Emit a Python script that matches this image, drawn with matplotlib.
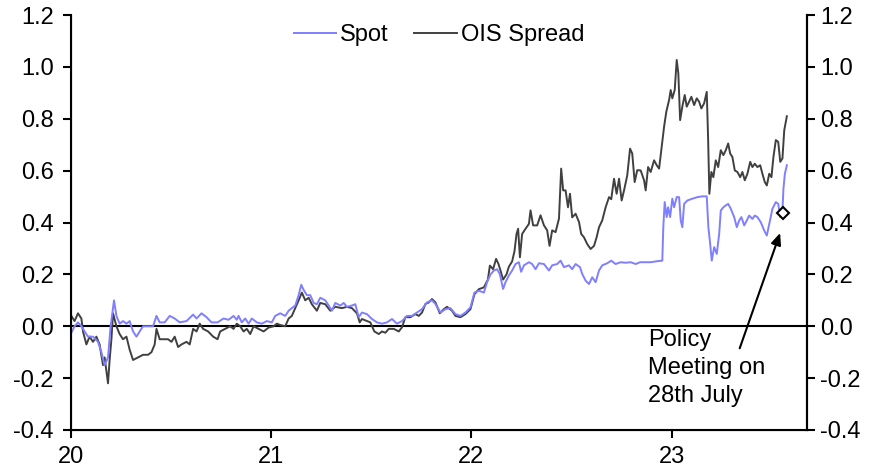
import matplotlib
matplotlib.use("Agg")
import matplotlib.pyplot as plt

plt.rcParams['font.family'] = ['Liberation Sans', 'DejaVu Sans']

# ---- data (decimal years, e.g. 20.5 = mid-2020) ----
spot_t = [20.002, 20.018, 20.035, 20.052, 20.068, 20.085, 20.11, 20.135, 20.152, 20.168,
          20.185, 20.198, 20.215, 20.227, 20.243, 20.26, 20.277, 20.293, 20.31, 20.327,
          20.343, 20.36, 20.385, 20.41, 20.427, 20.443, 20.468, 20.493, 20.518, 20.543,
          20.577, 20.61, 20.627, 20.652, 20.677, 20.702, 20.732,
          20.762, 20.787, 20.812, 20.828, 20.837, 20.853, 20.87, 20.887, 20.903, 20.928,
          20.953, 20.978, 21.003, 21.02, 21.045, 21.07, 21.087, 21.103, 21.12, 21.137,
          21.15, 21.162, 21.178, 21.195, 21.212, 21.228, 21.245, 21.27, 21.287, 21.303,
          21.32, 21.345, 21.362, 21.378, 21.403, 21.42, 21.437,
          21.453, 21.478, 21.503, 21.528, 21.553, 21.578, 21.603, 21.628, 21.653, 21.678,
          21.703, 21.728, 21.753, 21.778, 21.803, 21.82, 21.845, 21.87, 21.895, 21.92,
          21.945, 21.97, 21.995, 22.015, 22.037, 22.062, 22.078, 22.095, 22.112, 22.128,
          22.142, 22.158, 22.17, 22.187, 22.203, 22.22, 22.237, 22.248, 22.262, 22.287,
          22.303, 22.32, 22.337, 22.362, 22.387, 22.403, 22.428, 22.445, 22.462, 22.487,
          22.503, 22.52, 22.542, 22.553, 22.57, 22.587, 22.603, 22.62, 22.637, 22.653,
          22.678, 22.698, 22.72, 22.745, 22.77, 22.795, 22.82, 22.842, 22.895, 22.928,
          22.953, 22.958, 22.965, 22.975, 22.982, 22.992, 23.003, 23.012, 23.025, 23.037,
          23.045, 23.053, 23.062, 23.078, 23.103, 23.128, 23.153, 23.175, 23.183, 23.192,
          23.2, 23.212, 23.225, 23.237, 23.245, 23.258, 23.27, 23.282, 23.295, 23.312,
          23.325, 23.337, 23.348, 23.362, 23.375, 23.387, 23.403, 23.415, 23.428, 23.445,
          23.462, 23.475, 23.487, 23.503, 23.52, 23.532, 23.542, 23.553, 23.558, 23.565,
          23.575]
spot_v = [-0.025, 0.0, 0.015, 0.0, -0.02, -0.04, -0.04, -0.06, -0.10, -0.15,
          -0.12, 0.0, 0.10, 0.04, 0.01, 0.02, 0.01, 0.02, -0.02, -0.04,
          -0.02, 0.0, 0.0, 0.0, 0.04, 0.015, 0.015, 0.04, 0.03, 0.015,
          0.02, 0.045, 0.03, 0.05, 0.035, 0.015, 0.015,
          0.03, 0.025, 0.04, 0.025, 0.04, 0.015, 0.03, 0.01, 0.03, 0.015,
          0.01, 0.02, 0.015, 0.04, 0.05, 0.04, 0.06, 0.07, 0.08, 0.12,
          0.16, 0.14, 0.12, 0.12, 0.09, 0.085, 0.11, 0.10, 0.08, 0.06,
          0.09, 0.08, 0.09, 0.075, 0.08, 0.085, 0.035,
          0.053, 0.047, 0.028, 0.015, 0.01, 0.015, 0.028, 0.01, 0.02, 0.04,
          0.04, 0.053, 0.066, 0.092, 0.10, 0.086, 0.053, 0.066, 0.07, 0.047,
          0.04, 0.053, 0.073, 0.13, 0.137, 0.13, 0.17, 0.20, 0.215, 0.22,
          0.20, 0.144, 0.17, 0.196, 0.215, 0.24, 0.247, 0.21, 0.235, 0.247,
          0.24, 0.22, 0.243, 0.24, 0.215, 0.235, 0.24, 0.253, 0.228, 0.235,
          0.22, 0.24, 0.228, 0.202, 0.176, 0.163, 0.189, 0.17, 0.215, 0.235,
          0.243, 0.253, 0.24, 0.247, 0.245, 0.247, 0.24, 0.247, 0.247, 0.251,
          0.253, 0.382, 0.479, 0.421, 0.459, 0.421, 0.492, 0.459, 0.498, 0.498,
          0.408, 0.382, 0.472, 0.485, 0.492, 0.498, 0.501, 0.501, 0.382, 0.318,
          0.253, 0.305, 0.279, 0.356, 0.446, 0.459, 0.466, 0.472, 0.453, 0.421,
          0.382, 0.408, 0.421, 0.389, 0.408, 0.427, 0.414, 0.427, 0.421, 0.401,
          0.369, 0.350, 0.395, 0.453, 0.479, 0.472, 0.421, 0.446, 0.53, 0.588,
          0.621]

ois_t = [20.002, 20.018, 20.035, 20.052, 20.06, 20.077, 20.093, 20.11, 20.127, 20.143,
         20.16, 20.168, 20.185, 20.193, 20.202, 20.21, 20.227, 20.243, 20.26, 20.277,
         20.293, 20.31, 20.335, 20.36, 20.385, 20.402, 20.418, 20.427, 20.443, 20.468,
         20.485, 20.502, 20.518, 20.535, 20.552, 20.577, 20.593, 20.61, 20.627, 20.643,
         20.66, 20.685, 20.71, 20.732,
         20.745, 20.77, 20.795, 20.812, 20.828, 20.845, 20.862, 20.878, 20.895, 20.912,
         20.937, 20.962, 20.987, 21.012, 21.028, 21.045, 21.07, 21.087, 21.103, 21.12,
         21.137, 21.153, 21.17, 21.187, 21.203, 21.228, 21.245, 21.27, 21.295, 21.32,
         21.353, 21.378, 21.403, 21.428, 21.442,
         21.453, 21.478, 21.495, 21.515, 21.537, 21.553, 21.57, 21.587, 21.612, 21.637,
         21.653, 21.67, 21.695, 21.72, 21.737, 21.753, 21.77, 21.787, 21.803, 21.82,
         21.842, 21.862, 21.878, 21.903, 21.92, 21.945, 21.97, 21.995, 22.015, 22.037,
         22.062, 22.082, 22.092, 22.108, 22.123, 22.135,
         22.145, 22.158, 22.175, 22.187, 22.203, 22.215, 22.225, 22.233, 22.242, 22.253,
         22.27, 22.287, 22.295, 22.308, 22.328, 22.345, 22.362, 22.378, 22.39, 22.403,
         22.42, 22.437, 22.448, 22.458, 22.47, 22.482, 22.492, 22.503, 22.52, 22.537,
         22.548, 22.562, 22.578, 22.595, 22.612, 22.625, 22.637, 22.653, 22.67, 22.687,
         22.698, 22.712, 22.725, 22.737, 22.75, 22.762, 22.778, 22.792, 22.803, 22.815,
         22.828, 22.845, 22.862, 22.87, 22.882, 22.895, 22.912, 22.925, 22.937, 22.948,
         22.962, 22.973, 22.987, 22.995, 23.003, 23.015, 23.025, 23.033, 23.042, 23.053,
         23.065, 23.075, 23.087, 23.098, 23.112, 23.125, 23.137, 23.148, 23.162, 23.175,
         23.182, 23.188, 23.198, 23.208, 23.22, 23.232, 23.245, 23.258, 23.27, 23.282,
         23.292, 23.303, 23.315, 23.328, 23.342, 23.353, 23.365, 23.378, 23.392, 23.403,
         23.415, 23.428, 23.442, 23.453, 23.465, 23.475, 23.487, 23.498, 23.508, 23.52,
         23.532, 23.542, 23.553, 23.562, 23.575]
ois_v = [0.04, 0.02, 0.05, 0.03, -0.02, -0.07, -0.04, -0.06, -0.04, -0.07,
         -0.15, -0.12, -0.22, -0.13, -0.05, 0.05, 0.0, -0.03, -0.05, -0.04,
         -0.09, -0.13, -0.12, -0.11, -0.11, -0.10, -0.07, -0.01, -0.05, -0.05,
         -0.05, -0.06, -0.04, -0.08, -0.07, -0.06, -0.07, -0.01, -0.02, 0.01,
         -0.01, -0.02, -0.04, -0.05,
         -0.02, -0.01, 0.0, -0.01, 0.01, 0.0, -0.02, -0.01, -0.03, 0.0,
         -0.01, -0.02, -0.005, 0.0, 0.01, 0.005, 0.0, 0.03, 0.04, 0.07,
         0.10, 0.13, 0.10, 0.11, 0.085, 0.06, 0.09, 0.085, 0.06, 0.075,
         0.07, 0.075, 0.07, 0.05, 0.015,
         0.028, 0.02, 0.015, -0.02, -0.03, -0.02, -0.025, -0.01, -0.01, -0.02,
         -0.004, 0.035, 0.035, 0.047, 0.04, 0.053, 0.086, 0.092, 0.105, 0.092,
         0.05, 0.066, 0.075, 0.06, 0.04, 0.035, 0.047, 0.066, 0.124, 0.143,
         0.15, 0.18, 0.234, 0.22, 0.26, 0.24,
         0.215, 0.18, 0.20, 0.23, 0.25, 0.29, 0.356, 0.376, 0.266, 0.356,
         0.376, 0.395, 0.447, 0.389, 0.389, 0.428, 0.389, 0.37, 0.31, 0.37,
         0.363, 0.415, 0.608, 0.524, 0.524, 0.459, 0.511, 0.42, 0.434, 0.402,
         0.356, 0.343, 0.317, 0.298, 0.31, 0.343, 0.382, 0.408, 0.459, 0.498,
         0.49, 0.569, 0.511, 0.569, 0.485, 0.524, 0.582, 0.685, 0.666, 0.556,
         0.602, 0.601, 0.563, 0.524, 0.614, 0.595, 0.64, 0.621, 0.608, 0.679,
         0.77, 0.827, 0.873, 0.911, 0.879, 0.911, 1.027, 0.976, 0.795, 0.847,
         0.892, 0.847, 0.866, 0.885, 0.853, 0.879, 0.866, 0.84, 0.86, 0.904,
         0.718, 0.511, 0.595, 0.575, 0.64, 0.614, 0.679, 0.66, 0.679, 0.705,
         0.666, 0.653, 0.601, 0.595, 0.575, 0.595, 0.563, 0.588, 0.634, 0.614,
         0.627, 0.614, 0.621, 0.588, 0.556, 0.543, 0.588, 0.575, 0.653, 0.718,
         0.711, 0.634, 0.647, 0.756, 0.81]

meeting_t = [23.555]
meeting_v = [0.436]

x_ticks = [20, 21, 22, 23]
x_labels = ['20', '21', '22', '23']
y_ticks = [-0.4, -0.2, 0.0, 0.2, 0.4, 0.6, 0.8, 1.0, 1.2]

SPOT_C = '#7F7FFF'
OIS_C = '#404040'
FS = 17

fig = plt.figure(figsize=(8.74, 4.72), dpi=100)
ax = fig.add_axes([0.0812, 0.089, 0.842, 0.879])

ax.axhline(0, color='black', lw=1.5, zorder=1)
ax.plot(spot_t, spot_v, color=SPOT_C, lw=1.4, label='Spot', zorder=3)
ax.plot(ois_t, ois_v, color=OIS_C, lw=1.4, label='OIS Spread', zorder=2)
ax.plot(meeting_t, meeting_v, marker='D', ms=6, mfc='white', mec='black',
        mew=1.5, ls='none', zorder=5)

ax.set_xlim(20, 23.675)
ax.set_ylim(-0.4, 1.2)
ax.set_xticks(x_ticks)
ax.set_xticklabels(x_labels)
ax.set_yticks(y_ticks)
ax.set_yticklabels([f'{v:.1f}' for v in y_ticks])

ax.spines['top'].set_visible(False)
for s in ['left', 'bottom', 'right']:
    ax.spines[s].set_linewidth(1.5)
ax.tick_params(axis='both', labelsize=FS, width=1.5, length=5.5, direction='out')
ax.tick_params(axis='y', pad=7)
ax.tick_params(axis='x', pad=6)

ax2 = ax.twinx()
ax2.set_ylim(-0.4, 1.2)
ax2.set_yticks(y_ticks)
ax2.set_yticklabels([f'{v:.1f}' for v in y_ticks])
ax2.tick_params(axis='y', labelsize=FS, width=1.5, length=5.5, direction='out', pad=4)
ax2.spines['top'].set_visible(False)
ax2.spines['right'].set_linewidth(1.5)

leg = ax.legend(loc='upper center', bbox_to_anchor=(0.5, 1.03), ncol=2,
                frameon=False, fontsize=FS, handlelength=1.8, columnspacing=1.1,
                handletextpad=0.15)

ax.annotate('', xy=(23.546, 0.37), xytext=(23.335, -0.095),
            arrowprops=dict(arrowstyle='-|>,head_length=0.7,head_width=0.3',
                            color='black', lw=1.5))
ax.text(22.882, -0.01, 'Policy\nMeeting on\n28th July', ha='left', va='top',
        fontsize=FS, linespacing=1.35)

fig.savefig('out.png', dpi=100)
